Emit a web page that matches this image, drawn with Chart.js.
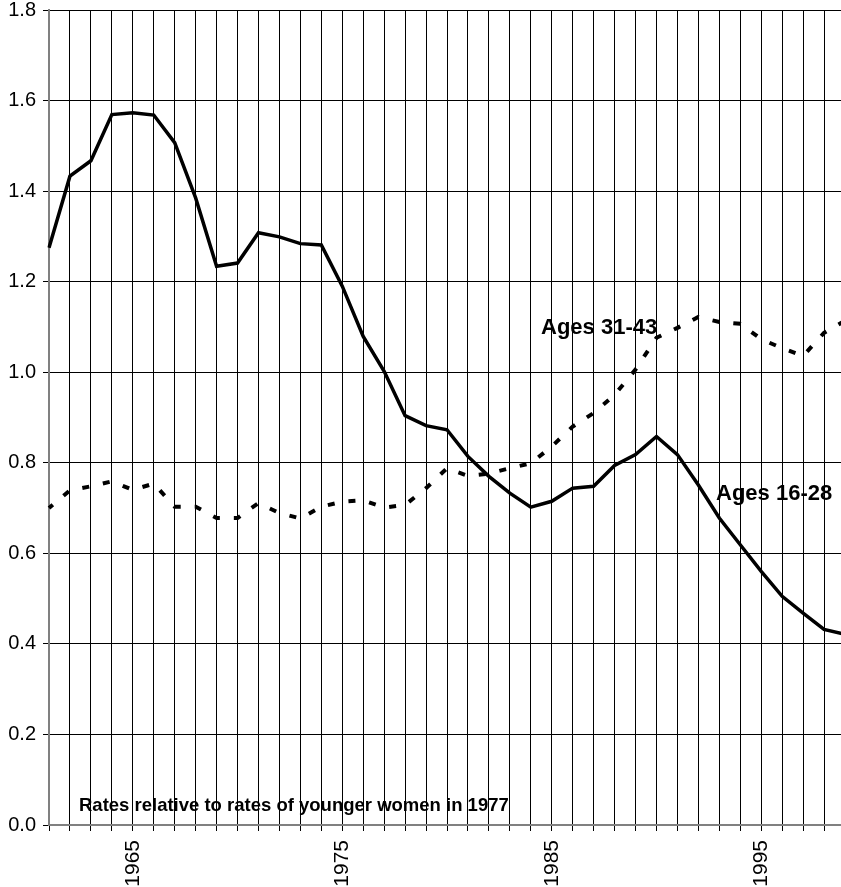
<!DOCTYPE html>
<html>
<head>
<meta charset="utf-8">
<script src="https://cdn.jsdelivr.net/npm/chart.js@4"></script>
<style>
  html, body { margin: 0; padding: 0; background: #fff; overflow: hidden; }
  #wrap { width: 841px; height: 887px; overflow: hidden; }
</style>
</head>
<body>
<div id="wrap"><canvas id="chartLinha" width="845" height="887"></canvas></div>
<script>
const years = [1961, 1962, 1963, 1964, 1965, 1966, 1967, 1968, 1969, 1970,
    1971, 1972, 1973, 1974, 1975, 1976, 1977, 1978, 1979, 1980,
    1981, 1982, 1983, 1984, 1985, 1986, 1987, 1988, 1989, 1990,
    1991, 1992, 1993, 1994, 1995, 1996, 1997, 1998, 1999];
const labeledYears = [1965, 1975, 1985, 1995];

// Ages 16-28
const younger = [1.275, 1.433, 1.467, 1.569, 1.573, 1.568, 1.507, 1.385, 1.234, 1.241,
    1.308, 1.299, 1.284, 1.281, 1.19, 1.079, 1.002, 0.904, 0.882, 0.873,
    0.814, 0.770, 0.733, 0.702, 0.715, 0.744, 0.748, 0.794, 0.818, 0.858,
    0.818, 0.751, 0.678, 0.619, 0.560, 0.505, 0.468, 0.432, 0.421];

// Ages 31-43
const older = [0.700, 0.739, 0.748, 0.759, 0.740, 0.754, 0.703, 0.703, 0.678, 0.678,
    0.711, 0.689, 0.677, 0.703, 0.714, 0.717, 0.701, 0.707, 0.744, 0.788,
    0.771, 0.776, 0.788, 0.799, 0.836, 0.880, 0.910, 0.950, 1.006, 1.076,
    1.098, 1.122, 1.111, 1.107, 1.073, 1.053, 1.036, 1.087, 1.114];

const yTicks = [0, 0.2, 0.4, 0.6, 0.8, 1.0, 1.2, 1.4, 1.6, 1.8];

const fonte = 'Liberation Sans, Arial, sans-serif';

// rotulos das series e nota
const anotacoes = {
    id: 'anotacoes',
    afterDraw(chart) {
        const c = chart.ctx;
        c.save();
        c.fillStyle = '#000';
        c.textAlign = 'left';
        c.textBaseline = 'alphabetic';
        c.font = 'bold 22px ' + fonte;
        c.fillText('Ages 31-43', 541, 334);
        c.fillText('Ages 16-28', 716, 500);
        c.font = 'bold 18.5px ' + fonte;
        c.fillText('Rates relative to rates of younger women in 1977', 79, 811);
        c.restore();
    }
};

const ctx = document.getElementById('chartLinha');
new Chart(ctx, {
    type: 'line',
    data: {
        labels: years,
        datasets: [{
            label: 'Ages 16-28',
            data: younger,
            borderColor: '#000',
            borderWidth: 3.5,
            pointRadius: 0,
            tension: 0,
            fill: false
        }, {
            label: 'Ages 31-43',
            data: older,
            borderColor: '#000',
            borderWidth: 4,
            borderDash: [7, 14],
            borderDashOffset: 2,
            borderCapStyle: 'butt',
            pointRadius: 0,
            tension: 0,
            fill: false
        }]
    },
    options: {
        responsive: false,
        animation: false,
        layout: { padding: { top: 10, right: 0, left: 0, bottom: 0 } },
        plugins: {
            legend: { display: false },
            tooltip: { enabled: false }
        },
        scales: {
            x: {
                type: 'category',
                offset: false,
                grid: { color: '#000', lineWidth: 1, tickLength: 6, drawTicks: true },
                border: { color: '#808080', width: 2 },
                ticks: {
                    autoSkip: false,
                    maxRotation: 90,
                    minRotation: 90,
                    padding: 9,
                    color: '#000',
                    font: { family: fonte, size: 21 },
                    callback: function (v) {
                        const ano = years[v];
                        return labeledYears.includes(ano) ? String(ano) : '';
                    }
                },
                afterFit(scale) {
                    scale.height = 62;
                    scale.paddingLeft = 0;
                    scale.paddingRight = 0;
                }
            },
            y: {
                min: 0,
                max: 1.8,
                afterBuildTicks(scale) {
                    scale.ticks = yTicks.map(v => ({ value: v }));
                },
                grid: { color: '#000', lineWidth: 1, tickLength: 6 },
                border: { color: '#808080', width: 2 },
                ticks: {
                    padding: 7,
                    color: '#000',
                    font: { family: fonte, size: 20 },
                    callback: v => v.toFixed(1)
                },
                afterFit(scale) {
                    scale.width = 49;
                    scale.paddingTop = 0;
                    scale.paddingBottom = 0;
                }
            }
        }
    },
    plugins: [anotacoes]
});
</script>
</body>
</html>
